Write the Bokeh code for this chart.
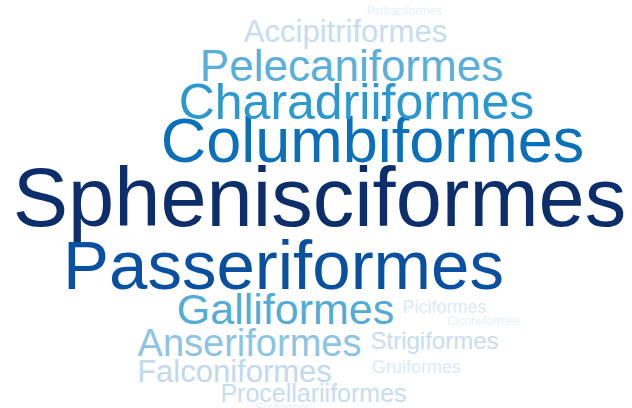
from bokeh.plotting import figure
from bokeh.models import ColumnDataSource, Range1d
from bokeh.core.properties import value
from bokeh.embed import file_html
from bokeh.resources import INLINE

# data: bird orders and their (relative) frequencies
orders = ["Sphenisciformes", "Passeriformes", "Columbiformes", "Charadriiformes",
          "Pelecaniformes", "Galliformes", "Anseriformes", "Accipitriformes",
          "Falconiformes", "Procellariiformes", "Strigiformes", "Piciformes",
          "Gruiformes", "Psittaciformes", "Ciconiiformes", "Suliformes"]
counts = [83, 69, 63, 50, 44, 43, 38, 31, 31, 25, 24, 18, 18, 12, 12, 12]

# layout of the word cloud (alphabetic baseline)
x_pos = [319, 283, 372, 356, 351, 285, 249, 345, 234, 313, 434, 444, 416, 404, 483, 283]
y_pos = [197, 265, 139, 101, 65, 308, 342, 31, 371, 392, 340, 306, 366, 10, 320, 407]
colors = ["#0c2f6c", "#0a50a0", "#0b70ba", "#2b98cf", "#5aaedb", "#53abd8",
          "#8cc4e5", "#c6dcf0", "#c2d8ef", "#c6dcf0", "#c8dcf0", "#dce9f6",
          "#dce9f6", "#e6eff9", "#e6eff9", "#e6eff9"]
sizes = ["%dpx" % c for c in counts]

src = ColumnDataSource(dict(x=x_pos, y=y_pos, text=orders, color=colors, size=sizes))

p = figure(width=632, height=408, output_backend="svg", toolbar_location=None,
           x_range=Range1d(0, 632), y_range=Range1d(408, 0), min_border=0)
p.axis.visible = False
p.grid.visible = False
p.outline_line_color = None
p.background_fill_color = "white"
p.border_fill_color = "white"

p.text(x="x", y="y", text="text", source=src, text_color="color",
       text_font_size="size", text_font=value("Liberation Sans"),
       text_align="center", text_baseline="alphabetic")

open("out.html", "w").write(file_html(p, INLINE))
